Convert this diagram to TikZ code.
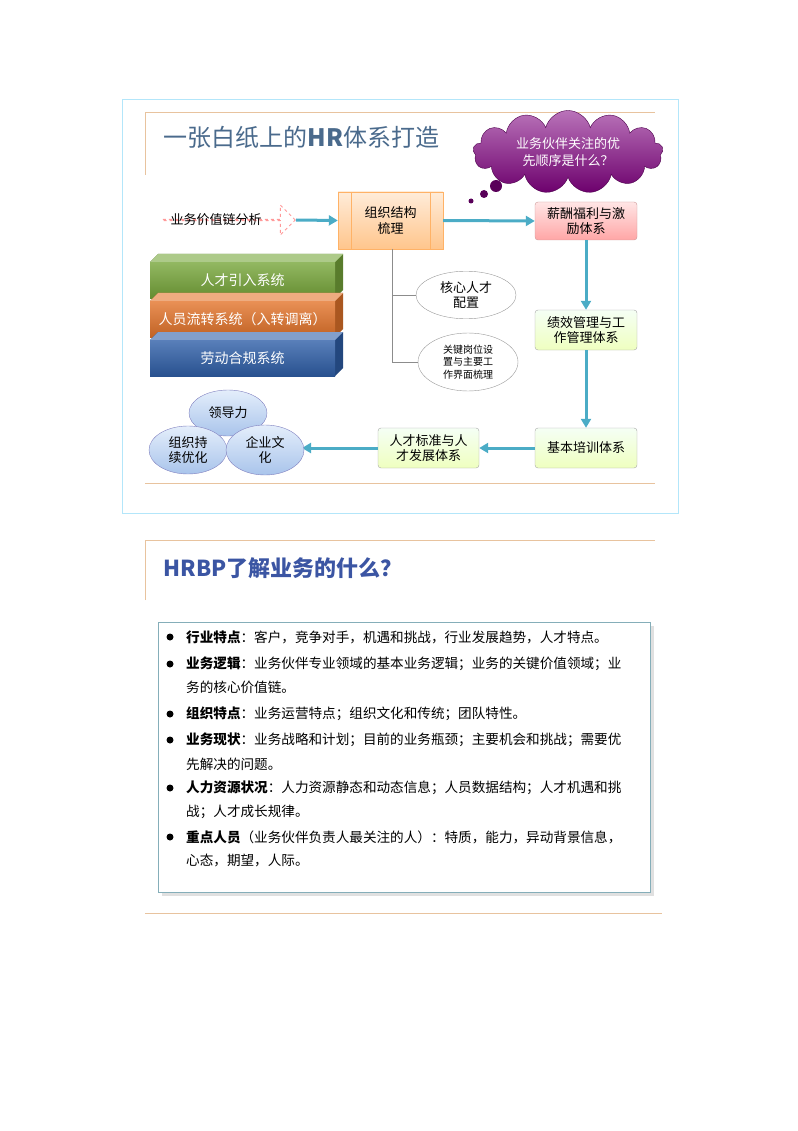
\documentclass[tikz,border=0pt]{standalone}
\usepackage{fontspec}
\setmainfont{Noto Sans CJK SC}
\usetikzlibrary{shapes.symbols,shapes.arrows,shapes.geometric,arrows.meta}
\definecolor{teal}{HTML}{4BACC6}
\definecolor{orline}{HTML}{E8C39E}
\definecolor{titleblue}{HTML}{4A6A8C}
\definecolor{sgreen}{HTML}{77A63A}
\definecolor{sorange}{HTML}{E3742B}
\definecolor{sblue}{HTML}{2F5FA8}
\definecolor{elltop}{HTML}{E4EEFB}
\definecolor{ellbot}{HTML}{A9C4EB}
\tikzset{
 flow/.style={-{Triangle[length=9pt,width=10pt]},line width=3pt,teal},
 gbox/.style={draw=black!35,rounded corners=3pt,top color=white!80!green!20,bottom color=green!25!yellow!25,align=center,font=\fontsize{13}{15}\selectfont},
 ell/.style={ellipse,draw=blue!50!black!50,top color=elltop,bottom color=ellbot,align=center,font=\fontsize{13}{15}\selectfont},
 bl/.style={anchor=west,font=\fontsize{13.6}{16}\selectfont,inner sep=0pt},
 dot/.style={circle,fill=black,inner sep=0pt,minimum size=7pt}
}
\begin{document}
\begin{tikzpicture}[x=1pt,y=-1pt]
\useasboundingbox (0,0) rectangle (797,1131);
% top panel
\node[draw=cyan!30,line width=1pt,minimum width=556pt,minimum height=413pt,inner sep=0pt] (frame) at (400,306.5) {};
\draw[orline,line width=1pt] (145,175) -- (145,113) -- (655,113);
\draw[orline,line width=1pt] (145,483) -- (655,483);
\node[anchor=west,titleblue,font=\fontsize{24}{26}\selectfont] (t1) at (160,137) {一张白纸上的\textbf{HR}体系打造};
\node[cloud,cloud puffs=13,aspect=2.8,draw=violet!60!black,top color=violet!55,bottom color=violet!85!black,minimum width=190pt,minimum height=66pt,align=center,text=white,font=\fontsize{13}{17}\selectfont] (cloud) at (568,152) {业务伙伴关注的优\\先顺序是什么？};
\foreach \x/\y/\r [count=\i] in {471/201/2.5,484/194/4,496/186/6}
 \node[circle,fill=violet!70!black,inner sep=0pt,minimum size=2*\r pt] (b\i) at (\x,\y) {};
\node[single arrow,draw=red!40,dashed,line width=1pt,minimum width=30pt,minimum height=133pt,single arrow head extend=13pt,single arrow head indent=0pt,inner sep=0pt] (va) at (228.5,220) {};
\node[font=\fontsize{13}{15}\selectfont] (vat) at (216,220) {业务价值链分析};
\node[draw=orange!60,top color=orange!15,bottom color=orange!45,minimum width=105pt,minimum height=57pt,align=center,font=\fontsize{13}{16}\selectfont] (org) at (390.5,220.5) {组织结构\\梳理};
\draw[orange!60] (351,192) -- (351,249) (430,192) -- (430,249);
\node[draw=red!50!black!40,rounded corners=3pt,top color=red!10,bottom color=red!35,minimum width=102pt,minimum height=38pt,align=center,font=\fontsize{13}{15}\selectfont] (pay) at (586,221) {薪酬福利与激\\励体系};
\node[gbox,minimum width=102pt,minimum height=40pt] (perf) at (586,330) {绩效管理与工\\作管理体系};
\node[gbox,minimum width=102pt,minimum height=40pt] (train) at (586,448) {基本培训体系};
\node[gbox,minimum width=101pt,minimum height=40pt] (tal) at (428.5,448) {人才标准与人\\才发展体系};
\draw[flow] (va.east) -- (org.west);
\draw[flow] (org.east) -- (pay.west);
\draw[flow] (pay.south) -- (perf.north);
\draw[flow] (perf.south) -- (train.north);
\draw[flow] (train.west) -- (tal.east);
\coordinate (ellr) at (302,448);
\draw[flow] (tal.west) -- (ellr);
\node[ell,minimum width=78pt,minimum height=46pt] (lead) at (228,413) {领导力};
\node[ell,minimum width=78pt,minimum height=48pt] (orgc) at (188,450) {组织持\\续优化};
\node[ell,minimum width=78pt,minimum height=50pt] (cult) at (265,450) {企业文\\化};
% stacked boxes
\foreach \n/\yy/\c/\t in {s1/262/sgreen/人才引入系统,s2/301/sorange/人员流转系统（入转调离）,s3/340/sblue/劳动合规系统}{
 \fill[\c!75!black] (150,\yy) -- (158,\yy-8) -- (343,\yy-8) -- (343,\yy+28) -- (335,\yy+36) -- (335,\yy) -- cycle;
 \fill[\c!60!white] (150,\yy) -- (158,\yy-8) -- (343,\yy-8) -- (335,\yy) -- cycle;
 \node[top color=\c!80!white,bottom color=\c!85!black,minimum width=185pt,minimum height=36pt,anchor=north west,inner sep=0pt,text=white,font=\fontsize{14}{16}\selectfont] (\n) at (150,\yy) {\t};
}
% tree
\node[ellipse,draw=black!40,minimum width=100pt,minimum height=42pt,align=center,font=\fontsize{13}{15}\selectfont] (core) at (466,295) {核心人才\\配置};
\node[ellipse,draw=black!40,minimum width=100pt,minimum height=48pt,align=center,font=\fontsize{10}{12.5}\selectfont] (key) at (468,362) {关键岗位设\\置与主要工\\作界面梳理};
\coordinate (tr) at (392,249);
\draw[black!45] (tr) -- (392,362) -- (key.west);
\draw[black!45] (392,295) -- (core.west);
% second panel
\draw[orline,line width=1pt] (145,600) -- (145,540) -- (655,540);
\node[anchor=west,color=titleblue!80!blue,font=\fontsize{22}{24}\selectfont\bfseries] (t2) at (160,568) {HRBP了解业务的什么？};
\fill[black!12] (162,626) rectangle (654,896);
\node[draw=teal!70!black!60,fill=white,minimum width=492pt,minimum height=270pt,inner sep=0pt] (box) at (404,757) {};
\draw[orline,line width=1pt] (145,913) -- (662,913);
\foreach \y in {637,664,714,740,788,837} \node[dot] at (170,\y) {};
\node[bl] (l1) at (186,637) {\textbf{行业特点}：客户，竞争对手，机遇和挑战，行业发展趋势，人才特点。};
\node[bl] (l2) at (186,664) {\textbf{业务逻辑}：业务伙伴专业领域的基本业务逻辑；业务的关键价值领域；业};
\node[bl] (l3) at (186,687) {务的核心价值链。};
\node[bl] (l4) at (186,714) {\textbf{组织特点}：业务运营特点；组织文化和传统；团队特性。};
\node[bl] (l5) at (186,740) {\textbf{业务现状}：业务战略和计划；目前的业务瓶颈；主要机会和挑战；需要优};
\node[bl] (l6) at (186,764) {先解决的问题。};
\node[bl] (l7) at (186,788) {\textbf{人力资源状况}：人力资源静态和动态信息；人员数据结构；人才机遇和挑};
\node[bl] (l8) at (186,812) {战；人才成长规律。};
\node[bl] (l9) at (186,837) {\textbf{重点人员}（业务伙伴负责人最关注的人）：特质，能力，异动背景信息，};
\node[bl] (l10) at (186,860) {心态，期望，人际。};
\end{tikzpicture}
\end{document}
